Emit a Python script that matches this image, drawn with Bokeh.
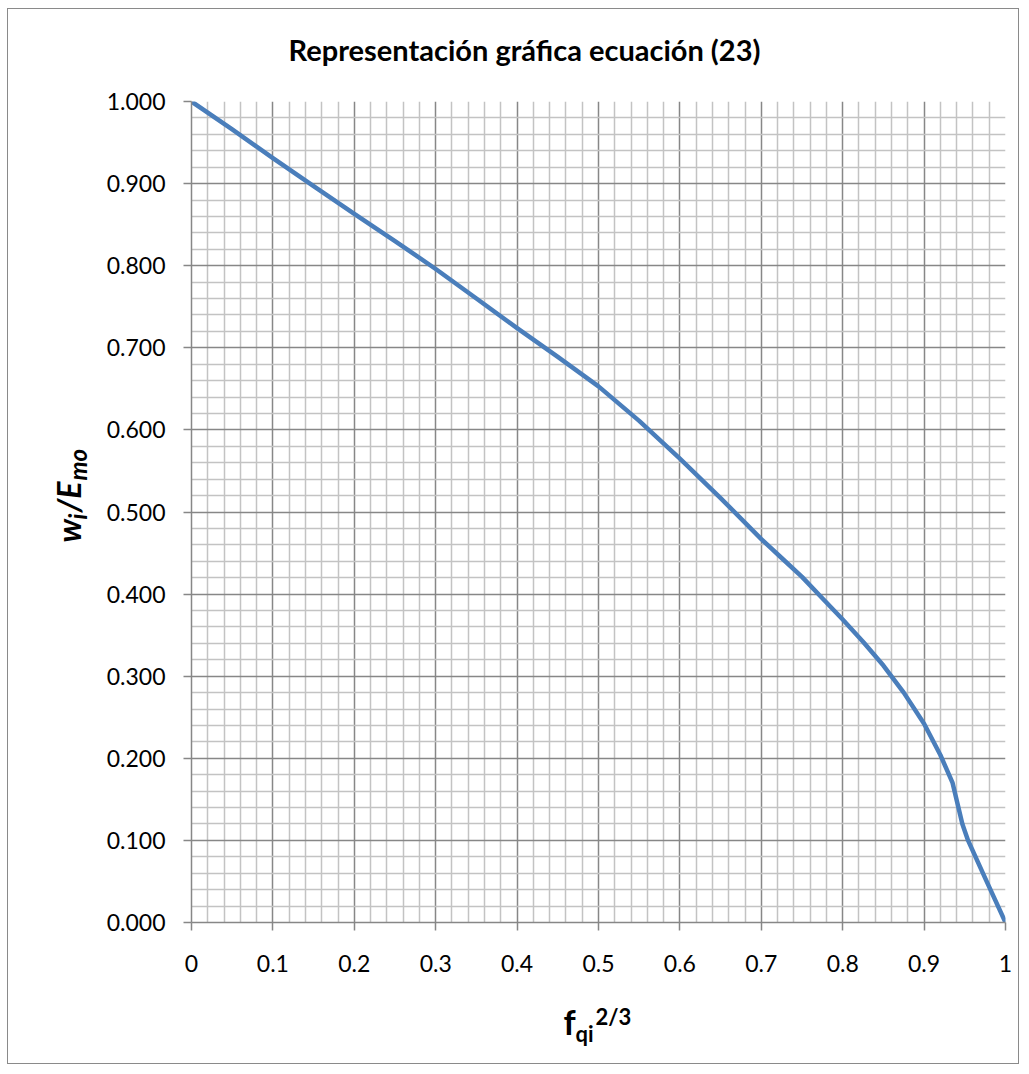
import math
from bokeh.plotting import figure
from bokeh.models import Range1d, FixedTicker, Label
from bokeh.embed import file_html
from bokeh.resources import INLINE

# ---- data ----
x_vals = [0.0, 0.05, 0.1, 0.15, 0.2, 0.25, 0.3, 0.35, 0.4, 0.45, 0.5, 0.55, 0.6,
          0.65, 0.7, 0.725, 0.75, 0.775, 0.8, 0.825, 0.85, 0.875, 0.9, 0.92, 0.935,
          0.941, 0.947, 0.954, 0.975, 1.0]
y_vals = [1.000, 0.966, 0.931, 0.897, 0.863, 0.830, 0.796, 0.760, 0.724, 0.689, 0.653,
          0.611, 0.565, 0.517, 0.467, 0.444, 0.421, 0.395, 0.369, 0.342, 0.313, 0.280,
          0.242, 0.204, 0.170, 0.145, 0.120, 0.100, 0.054, 0.000]

x_ticks = [0, 0.1, 0.2, 0.3, 0.4, 0.5, 0.6, 0.7, 0.8, 0.9, 1]
x_tick_labels = ["0", "0.1", "0.2", "0.3", "0.4", "0.5", "0.6", "0.7", "0.8", "0.9", "1"]
y_ticks = [0, 0.1, 0.2, 0.3, 0.4, 0.5, 0.6, 0.7, 0.8, 0.9, 1]
y_tick_labels = ["0.000", "0.100", "0.200", "0.300", "0.400", "0.500", "0.600",
                 "0.700", "0.800", "0.900", "1.000"]
minor_ticks = [0.02, 0.04, 0.06, 0.08, 0.12, 0.14, 0.16, 0.18, 0.22, 0.24, 0.26, 0.28,
               0.32, 0.34, 0.36, 0.38, 0.42, 0.44, 0.46, 0.48, 0.52, 0.54, 0.56, 0.58,
               0.62, 0.64, 0.66, 0.68, 0.72, 0.74, 0.76, 0.78, 0.82, 0.84, 0.86, 0.88,
               0.92, 0.94, 0.96, 0.98]

title_text = "Representación gráfica ecuación (23)"

FONT = "Lato"
MAJOR = "#878787"
MINOR = "#c3c3c3"

# page geometry: figure origin (inside its 1px border) and plot frame
OX, OY = 8, 9
FL, FR, FT, FB = 191, 1005, 101, 922
W, H = 1012, 1056

p = figure(width=W, height=H, title=None,
           x_range=Range1d(0, 1), y_range=Range1d(0, 1),
           output_backend="svg", toolbar_location=None,
           min_border_left=FL - OX, min_border_right=OX + W - FR,
           min_border_top=FT - OY, min_border_bottom=OY + H - FB)
p.styles = {"border": "1px solid #8a8a8a", "margin-left": "7px", "margin-top": "8px"}
p.outline_line_color = None
p.background_fill_color = "white"
p.border_fill_color = "white"

for ax, ticks, labels in ((p.xaxis[0], x_ticks, x_tick_labels), (p.yaxis[0], y_ticks, y_tick_labels)):
    ax.ticker = FixedTicker(ticks=ticks, minor_ticks=minor_ticks)
    ax.major_label_overrides = {t: l for t, l in zip(ticks, labels)}
    ax.axis_line_color = MAJOR
    ax.axis_line_width = 1.5
    ax.major_tick_line_color = MAJOR
    ax.major_tick_line_width = 1.5
    ax.major_tick_out = 8
    ax.major_tick_in = 0
    ax.minor_tick_line_color = None
    ax.major_label_text_font = FONT
    ax.major_label_text_font_size = "23px"
    ax.major_label_text_color = "black"

p.yaxis[0].major_label_standoff = 18
p.xaxis[0].major_label_standoff = 24

for g in (p.xgrid[0], p.ygrid[0]):
    g.grid_line_color = MAJOR
    g.grid_line_width = 1.5
    g.minor_grid_line_color = MINOR
    g.minor_grid_line_width = 1.5

p.line(x_vals, y_vals, line_color="#4A7EBB", line_width=4.5, line_join="round", line_cap="round")


def dx(px):
    return (px - FL) / (FR - FL)


def dy(py):
    return (FB - py) / (FB - FT)


def lab(place, text, px, py, size, style="bold", align="left", angle=0.0):
    # (px, py) is the start of the text at the middle of its line box, in page pixels;
    # the side panel only hosts the label so that it is not clipped to the frame
    p.add_layout(Label(x=dx(px), y=dy(py), text=text, text_font=FONT,
                       text_font_size=f"{size}px", text_font_style=style,
                       text_align=align, text_baseline="middle", angle=angle,
                       text_color="black"), place)


# title
lab("above", title_text, 524, 49, 29, align="center")

# x axis title: f_qi^(2/3)   (short horizontal pieces live in the left panel)
lab("left", "f", 563, 1021, 34)
lab("left", "qi", 575, 1033, 22)
lab("left", "2/3", 595, 1016, 22)

# y axis title: w_i/E_mo, rotated to read bottom to top
A = math.pi / 2
lab("above", "w", 68, 542, 32, style="bold italic", angle=A)
lab("above", "i", 77, 519, 24, style="bold italic", angle=A)
lab("below", "/E", 68, 512, 32, style="bold italic", angle=A)
lab("below", "mo", 77, 480, 24, style="bold italic", angle=A)

open("out.html", "w").write(file_html(p, INLINE))
